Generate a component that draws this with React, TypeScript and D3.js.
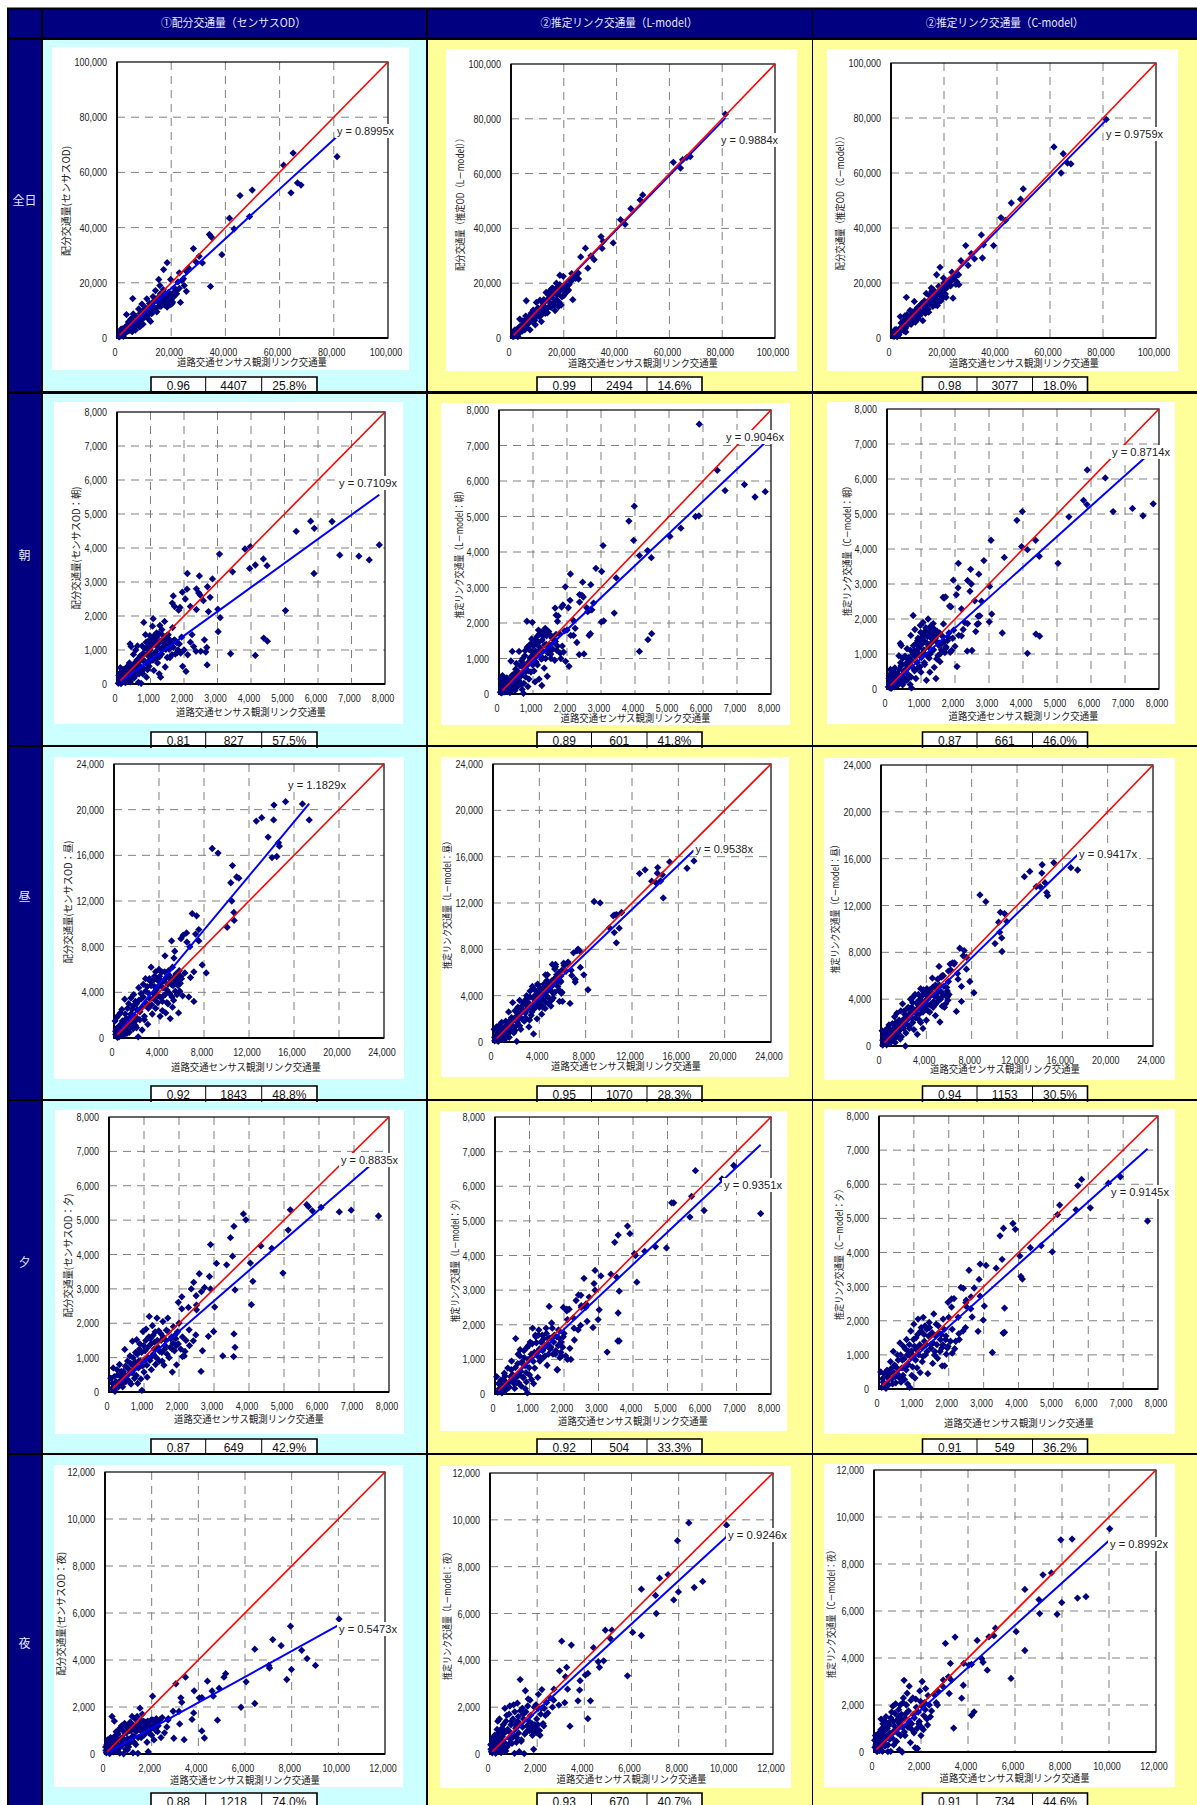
import React from "react";
import * as d3 from "d3";

// 列・行の見出し
const columnTitles = ["①配分交通量（センサスOD）", "②推定リンク交通量（L-model）", "②推定リンク交通量（C-model）"];
const columnTitleX = [233.5, 619, 1004.7];
const columnTitleLen = [145, 157, 158];
const rowTitles = ["全日", "朝", "昼", "夕", "夜"];
const rowTitleY = [200, 555, 896, 1262, 1643];

const yAxisTitles = [
  ["配分交通量(センサスOD)", "配分交通量（推定OD（L－model））", "配分交通量（推定OD（C－model））"],
  ["配分交通量(センサスOD：朝)", "推定リンク交通量（L－model：朝）", "推定リンク交通量（C－model：朝）"],
  ["配分交通量(センサスOD：昼)", "推定リンク交通量（L－model：昼）", "推定リンク交通量（C－model：昼）"],
  ["配分交通量(センサスOD：夕)", "推定リンク交通量（L－model：夕）", "推定リンク交通量（C－model：夕）"],
  ["配分交通量(センサスOD：夜)", "推定リンク交通量（L－model：夜）", "推定リンク交通量（C－model：夜）"],
];
const xAxisTitle = "道路交通センサス観測リンク交通量";

// 軸の目盛
const axisMax = [100000, 8000, 24000, 8000, 12000];
const axisStep = [20000, 1000, 4000, 1000, 2000];
const lineStart = [1000, 100, 300, 100, 100];

// 回帰式の傾き
const slopes = [
  [0.8995, 0.9884, 0.9759],
  [0.7109, 0.9046, 0.8714],
  [1.1829, 0.9538, 0.9417],
  [0.8835, 0.9351, 0.9145],
  [0.5473, 0.9246, 0.8992],
];

// 下の表 (相関係数, RMS, %RMS)
const statR = [
  ["0.96", "0.99", "0.98"],
  ["0.81", "0.89", "0.87"],
  ["0.92", "0.95", "0.94"],
  ["0.87", "0.92", "0.91"],
  ["0.88", "0.93", "0.91"],
];
const statRms = [
  ["4407", "2494", "3077"],
  ["827", "601", "661"],
  ["1843", "1070", "1153"],
  ["649", "504", "549"],
  ["1218", "670", "734"],
];
const statPct = [
  ["25.8%", "14.6%", "18.0%"],
  ["57.5%", "41.8%", "46.0%"],
  ["48.8%", "28.3%", "30.5%"],
  ["42.9%", "33.3%", "36.2%"],
  ["74.0%", "40.7%", "44.6%"],
];

// [観測値, センサスOD, L-model, C-model]
const allDayPoints = [
  [81200,65700,81700,79500],[65000,67000,65100,67000],[61500,62600,64100,69500],[64200,52600,62000,60000],[66600,56200,65900,63600],
  [67900,55400,66200,63300],[49900,53600,52200,54200],[45400,51600,47200,49100],[48900,44000,50400,50500],[41500,43400,43200,43800],
  [43200,39500,41500,42800],[34100,37500,37000,37500],[34900,36500,35300,33900],[28200,32400,32800,33600],[38700,30200,34700,33600],
  [30300,29600,30000,30700],[29100,27600,25500,26400],[31500,27200,28600,28800],[34500,18700,32700,29100],[18500,27300,22900,25700],
  [17200,24800,20000,23000],[26400,25400,29600,28100],[25500,24200,23700,23000],[23000,23600,23500,23900],[25600,16900,21500,19400],
  [23400,12900,14000,14500],[15400,21200,18000,17000],[19800,21200,22500,21800],[5800,14300,13600,14800],
  [1000,1500,2000,1800],[1200,800,800,600],[1500,3200,3000,3000],[1800,1000,1200,1200],[2000,3300,2000,3000],[2300,600,1000,500],
  [2600,2000,500,2100],[3000,3800,3200,1200],[3300,2500,6900,3200],[3500,8500,2800,7800],[3800,3500,4500,5500],[4200,5800,2500,4100],
  [4500,2800,6200,6000],[5000,3000,4400,2500],[5200,7000,3000,8000],[5600,2300,8000,2200],[6000,8700,3800,8500],[6400,4200,5200,4800],
  [6800,2900,7300,6500],[7200,6200,3000,10000],[7600,5500,9000,5000],[8000,10500,6000,9500],[8400,4000,10200,7000],[8800,6800,7400,13300],
  [9200,12300,4800,5800],[9600,5000,13000,10500],[10000,8000,8300,11000],[10500,11000,9000,7800],[11000,14200,13800,9000],[11500,7000,6000,12500],
  [12000,12500,10200,6300],[12400,6000,14000,13000],[12800,8800,9800,10500],[13300,15000,16600,16200],[13800,11000,9200,11800],[14200,17200,14200,9400],
  [14700,9500,17200,14000],[15200,13000,11200,18200],[15800,19000,18200,11500],[16200,11500,13000,17000],[16700,15000,10000,13000],[17100,17500,16000,14200],
  [17500,12000,18500,11800],[18000,14800,11500,18800],[18500,11200,19500,15500],[19000,16500,12000,17500],[19500,12000,17800,14500],[20000,14000,15500,20000],
  [20500,13000,18000,16000],[21000,16500,19200,18200],[21800,17000,17500,21000],[22500,20300,20500,19000],[24000,20800,22000,22000],[24800,19000,23000,20500],
  [24500,21500,21800,19500],
  [800,400,500,700],[1300,2300,1800,2200],[2100,1500,2600,1500],[2800,2800,1500,3000],[3100,1800,4000,2200],[3600,4500,3600,3200],[4000,2500,3000,2800],[4400,4200,5000,4400],
  [4800,4900,3500,6000],[5400,4800,6500,3500],[5900,4300,4800,7000],[6200,6000,7000,5200],[6600,5000,5500,5800],[7000,7800,6400,7400],[7400,4800,8200,6200],[7800,7000,7000,8300],
  [8200,6000,9300,7000],[8600,9000,8000,6000],[9000,8200,6500,9600],[9400,7000,10000,8000],[9800,10000,8800,9300],[10200,7500,11000,7000],[10700,9000,7800,10000],[11200,10500,10800,12000],
  [11700,8500,8500,9000],[12200,11000,12500,11500],[12600,9800,11500,13500],[13000,12800,9000,9000],[13500,10000,13800,13000],[14000,13500,11000,10500],[14400,10800,15500,15500],[15000,14500,12500,12500],
  [15500,11500,14800,13800],[16000,16000,16500,17500],[16500,13500,12000,15000],[16900,12800,17500,12000],[17300,14800,14000,15800],[17800,16000,16000,13000],[18300,13000,13000,16500],[18800,15500,17500,13500],
  [19300,14500,15000,18500],[19800,15800,19000,15800],[20300,12500,16000,18000],[20800,14800,18500,14800],[21300,18000,17000,20000],[22000,16000,19500,19500],[23000,18000,21000,21000],
];

const morningPoints = [
  [7830,4090,5700,5290],[7530,3650,5550,4950],[7220,3760,5900,5160],[6650,3790,5730,5070],[6420,4780,6300,6030],[5890,4580,7600,6260],
  [5880,3250,5020,5270],[5780,4790,5000,5390],[5350,4490,4670,4920],[5030,2160,4440,3590],[4480,3480,3840,3790],[4490,1260,1700,1510],
  [4370,3680,4040,4250],[4380,1350,1530,1570],[4130,3500,3900,3980],[4130,840,1200,1020],[3980,4040,5290,5070],[3960,3400,4330,4070],
  [3820,3970,4870,4820],[3450,3300,3270,3760],[3390,890,2280,1600],[3060,3820,4180,4250],[3010,2200,2030,1920],[3020,1540,3450,2930],
  [3080,1950,2060,2140],[2850,3090,3540,3670],[2700,2860,3080,3280],[2370,2800,2800,3100],[2100,3250,3380,3590],[2460,3180,3150,3420],
  [1950,2700,3020,3110],[2090,2790,2640,2890],[2440,2680,2780,2790],[2480,2620,2730,3000],[1680,2590,2220,2600],[2780,2550,2560,2510],
  [1650,2380,2420,2620],[2040,2500,2430,2690],[1720,2280,2050,2630],[2190,2280,2070,2290],[1880,2250,2510,2350],[1840,2170,2450,2370],
  [2580,2450,2430,2520],[2730,2130,2370,2090],[2370,2190,2590,1870],[2610,1300,2320,1640],[2680,1075,2370,2080],[2650,940,1650,1850],
  [2500,960,1130,1100],[2360,960,1110,1080],[2110,860,1650,1530],[2690,560,1700,1870],[2060,370,780,640],[2240,1450,1850,1700],[2190,1230,1650,1520],
  [2290,1100,1450,1900],[40,20,50,60],[60,250,420,300],[80,80,30,40],[100,480,520,560],[120,10,120,20],[130,300,180,520],[150,130,280,110],[170,60,60,60],[190,420,380,350],
  [210,210,90,130],[230,350,450,600],[250,40,200,250],[280,170,310,180],[300,510,180,90],[320,110,40,430],[350,280,930,950],[370,620,110,300],[390,1180,1200,1300],
  [400,60,340,750],[420,1100,550,1240],[450,240,280,180],[470,430,100,880],[490,870,700,520],[510,180,860,220],[530,620,420,940],[560,1000,240,700],[590,330,1200,1150],
  [610,1120,310,850],[640,50,500,330],[680,430,130,130],[700,760,1000,1530],[720,20,20,30],[750,1120,720,620],[770,300,1220,2100],[800,1810,650,1100],[820,680,2050,1700],
  [850,1450,210,300],[880,200,420,580],[900,880,1380,1380],[930,1260,960,1000],[960,520,1550,1230],[980,1420,2020,1820],[1000,720,1100,480],[1030,1150,650,1490],[1060,1700,340,1900],
  [1080,1920,1200,1120],[1100,400,1500,750],[1130,1280,820,1660],[1160,950,1800,250],[1180,1500,420,1300],[1210,620,1300,2000],[1240,1200,1750,880],[1260,300,240,480],[1280,1720,1020,1760],
  [1300,200,1620,1450],[1330,880,730,1100],[1360,1440,1850,1870],[1390,1120,1400,620],[1420,1840,500,1450],[1440,500,1150,300],[1470,1280,1700,1650],[1500,780,1250,950],[1530,1450,1000,1320],
  [1560,1020,1580,780],[1600,1200,1550,1120],[1640,860,950,1500],[1660,1660,1480,1860],[1700,1280,1230,1040],[1740,880,2200,1200],[1780,1220,1700,1380],[1820,1000,1000,1600],[1860,1180,1350,1050],
  [1900,910,1180,1100],[1930,1380,1780,1450],[1960,520,920,1680],[2000,1000,1800,1220],
  [70,150,200,180],[90,320,300,420],[110,60,380,240],[140,220,60,380],[160,400,150,70],[180,120,440,200],[200,280,260,500],[220,90,120,60],[240,190,350,310],[260,410,70,150],[290,90,240,420],[310,300,400,230],
  [340,190,300,140],[360,420,180,560],[380,130,520,260],[410,340,230,660],[440,180,430,400],[460,520,310,120],[500,300,580,330],[520,420,200,510],[550,250,640,720],[580,530,380,250],[600,710,520,600],[620,420,790,420],
  [650,640,270,900],[660,300,930,760],[690,820,600,1110],[710,510,860,340],[730,350,300,800],[760,700,1080,1000],[780,900,480,1240],[810,450,800,520],[830,1040,1320,920],[860,620,650,1300],[870,1230,900,1090],[890,1060,1250,760],
  [910,420,1020,1450],[940,820,620,1180],[950,1130,1420,1330],[970,650,1190,630],[990,1000,820,1620],[1010,1260,1350,900],[1020,840,1030,1280],[1050,1380,1500,1420],[1070,700,1210,1040],[1090,1150,900,1560],[1110,1420,1400,700],[1120,900,1620,1350],
  [1140,1250,1120,1750],[1170,750,1460,960],[1190,1380,1690,1500],[1220,1080,1250,1200],[1250,1480,980,1640],[1270,800,1520,1000],[1290,1260,1200,1800],[1310,1020,1750,1320],[1340,1600,1380,1560],[1370,1250,1000,1120],[1400,1040,1640,1700],[1430,1350,1250,1380],
  [1460,1020,1760,860],[1490,1430,1380,1550],[1520,1180,1120,1250],[1550,1320,1620,1600],[1580,780,1260,1020],[1620,1150,1450,1300],[1680,1080,1680,1350],[1720,1300,1350,1150],[1800,920,1150,1480],
];

const middayPoints = [
  [17350,19100,15630,15030],[16750,20500,15000,15230],[15250,20700,15550,15650],[14220,20400,15060,15480],[14190,19100,14570,14770],[13130,19300,14860,14910],
  [12650,19000,14540,14460],[13700,17600,13880,13610],[14620,17100,14430,13100],[14700,16800,12440,12840],[14050,15800,13760,13610],[14470,15900,13900,13950],
  [8730,16600,12130,12900],[9250,16200,12010,12330],[10530,15100,10980,11420],[10380,13600,10900,10570],[10900,14100,9830,11310],[11100,14000,11180,10630],
  [10470,12000,9450,9720],[10650,11000,8560,9230],[10680,10300,11000,8070],[10060,9700,9860,8750],[6950,10900,7700,8350],[7340,10700,8020,8150],[7540,9500,7800,7580],
  [7250,9100,7870,7700],[7540,8500,6440,6560],[6450,9200,6800,7000],[6150,9000,6600,6500],[5950,8700,6200,6400],[5120,8500,6700,6800],[6750,8000,6200,6200],[6480,8400,6900,7100],
  [7840,6400,5800,5510],[8200,5700,4510,4550],[7100,5800,5170,5090],[6800,5300,5750,5710],[6650,3600,3330,2950],[7100,3200,5400,3810],[5740,2200,3500,4300],[5200,2700,3800,2050],
  [4530,7200,5800,5800],[5400,7600,6700,6000],[5330,7000,6300,5900],[5860,5400,5200,4200],
  [100,1500,1100,1300],[150,300,100,80],[200,800,300,900],[250,1800,500,200],[300,50,1300,600],[350,400,150,1300],[400,2000,800,400],[450,100,50,1000],[500,1000,1400,100],[550,2200,400,1500],
  [600,500,1000,700],[700,2500,300,1800],[750,800,1700,400],[800,200,600,1400],[900,1500,1200,600],[950,3400,900,1000],[1000,2100,200,1900],[1100,700,1800,1200],[1200,2600,700,2500],[1250,1100,1500,300],
  [1300,3000,1000,2000],[1350,500,2600,800],[1400,1800,400,2800],[1500,3500,1900,1400],[1600,2500,1200,2200],[1700,800,3400,600],[1750,3800,2000,3000],[1800,1400,800,1500],[1900,3200,2700,3600],[2000,900,1400,2300],
  [2050,2500,50,3000],[2150,100,3000,0],[2200,4400,2000,1100],[2300,1600,3600,2600],[2400,3400,1100,3200],[2500,700,2800,1700],[2600,4700,3400,4000],[2700,1900,1800,2400],[2800,5200,2500,3700],[2900,3000,4000,1400],
  [3000,1200,3000,4400],[3100,3900,1300,2800],[3200,5000,3900,1000],[3300,6200,2300,3500],[3400,2100,4800,2200],[3500,3500,700,4900],[3600,5400,3200,3100],[3700,2600,4100,1500],[3800,4400,2000,4600],[3900,3100,4900,3400],
  [4000,6000,3000,2200],[4100,1900,4300,4000],[4200,5000,2400,4700],[4300,2400,3700,2900],[4400,3700,5000,3600],[4500,5800,2900,4400],[4600,2200,4000,3300],[4700,4200,5800,5000],[4800,3000,3300,2600],[4900,5500,4700,4200],
  [5000,1700,3100,5700],[5100,4700,5300,3900],[5200,6200,4200,4700],[5300,3300,6600,5900],[5400,4800,6500,3400],[5500,5600,5800,6000],[5600,3800,4800,3300],[5700,4600,6000,4300],[5800,5900,5300,5000],[5900,4800,4200,3900],
  [6000,5200,3500,4400],[6100,3700,6800,7000],[6300,5700,6100,7100],
  [150,600,400,500],[300,900,600,300],[450,500,250,700],[600,1200,800,1100],[750,1500,500,800],[850,650,1000,300],[1000,1200,1300,1100],[1100,1700,700,600],[1150,400,1100,1500],[1300,1600,1400,900],[1400,900,800,1700],
  [1500,2100,1500,1100],[1600,1200,2100,1300],[1700,2800,1300,1900],[1800,2000,1900,800],[1900,1100,1000,2000],[2000,3000,2200,1500],[2100,1700,1700,2700],[2200,3300,2500,1900],[2300,2300,1400,2200],[2400,3900,3000,3300],[2500,2700,2000,1500],
  [2600,3600,2700,2800],[2700,1600,3300,3300],[2800,4100,2100,2000],[2850,3000,3700,4200],[2950,4500,2800,3000],[3050,2600,3400,2400],[3150,5200,1900,3700],[3200,3400,4400,3200],[3300,4600,3000,4400],[3350,2900,2600,2700],[3450,5000,3800,4000],
  [3500,3900,4600,2000],[3600,4500,2900,3600],[3650,3300,3500,4300],[3700,5800,4400,2900],[3750,4200,3100,4800],[3850,5100,5000,3800],[3900,3700,3500,3100],[3950,4500,4100,4400],[4050,5400,3600,4900],[4100,3600,4600,3500],[4150,4800,3200,3000],
  [4250,5800,4500,4200],[4300,3200,3000,4800],[4350,4400,4200,3500],[4450,5000,4800,4600],[4550,3800,3400,5000],[4650,5300,5300,3800],[4700,3100,4400,4300],[4800,4700,3800,5200],[4850,5900,5000,3600],[4950,3900,4500,4500],[5050,5100,3600,4800],
  [5150,3600,4900,5200],[5250,4600,5400,4000],[5350,5300,4300,4600],[5450,4100,5600,4300],[5550,5000,5100,5100],[5700,5300,4500,3600],[5850,4100,5700,4700],[5950,5400,4300,5500],
];

const eveningPoints = [
  [7700,5120,5210,4920],[6920,5290,6600,6220],[6580,5240,6210,6030],[6060,5370,5300,5310],[5810,5270,6450,6140],[5700,5390,5710,5960],[5650,5450,5110,5250],[5180,5300,5520,5390],
  [5120,4710,5520,5110],[4970,3460,4220,4020],[4650,4180,4250,4200],[4340,4250,4120,4140],[4040,3750,4050,3900],[4110,3220,3230,3220],[4070,2540,4000,3300],[3910,5010,4630,4680],
  [3840,5180,4850,4850],[3570,4820,4590,4710],[3470,4490,4380,4490],[3530,3950,3370,3800],[3360,3700,3460,3540],[2900,4290,3570,3660],[3070,3740,3410,3620],[2580,3440,3340,3480],
  [2870,3360,3190,3210],[2420,3190,2860,2950],[2350,3000,2700,2980],[2730,3040,2800,2960],[2640,2920,2600,2700],[2900,3000,3000,2720],[2490,2800,2850,2530],[2500,2530,2550,2600],
  [2500,2390,2500,2420],[2080,2770,2450,2640],[1980,2610,2500,2540],[2080,2420,2400,2400],[2270,2460,2200,2100],[3020,2470,2430,2430],[2990,1760,2150,2020],[2840,1620,1920,1690],
  [3600,2970,2970,2370],[3570,1690,2340,1640],[3600,1300,1530,1660],[3560,1030,1530,1640],[3250,1050,1210,1070],[2670,1200,2100,2110],[2630,600,2500,2350],[2480,1660,1980,1800],
  [2290,1810,1900,1620],[2410,1490,1850,1700],[2300,1350,1560,1450],[2170,1180,1320,1180],[2100,1030,1000,1050],[1810,580,700,680],[1930,790,1100,1020],
  [50,400,500,500],[80,100,50,50],[120,700,150,200],[170,20,400,60],[200,300,30,20],[230,650,200,550],[270,150,600,120],[300,800,100,450],[330,450,320,800],[370,230,750,300],[410,600,200,1100],[450,1240,500,700],
  [480,300,950,180],[530,900,420,1000],[570,530,160,400],[600,1050,1600,1350],[630,230,320,200],[670,1480,1150,850],[700,750,550,1250],[730,400,1280,280],[760,1150,230,650],[790,1520,880,1450],[820,250,480,150],[850,900,1050,1100],
  [880,1400,150,50],[910,380,350,1700],[940,50,30,400],[970,1760,1400,1000],[1000,580,550,1900],[1030,1200,1020,320],[1060,1830,420,1500],[1090,430,1900,620],[1120,1000,300,2050],[1150,2200,750,1200],[1180,1550,1650,480],[1210,650,1200,1800],
  [1240,1930,480,800],[1270,1100,1850,2100],[1300,1450,950,1400],[1330,800,1500,1000],[1370,2150,1700,1750],[1400,1300,1050,450],[1440,900,1350,1950],[1480,1700,1900,1300],[1510,1150,830,1600],[1540,2050,1600,750],[1570,780,2530,2200],[1600,1350,1300,1100],
  [1640,1800,2050,1900],[1680,2150,1150,900],[1720,1000,1700,1650],[1760,1550,1250,1450],[1800,1250,700,1200],[1840,1900,1850,2050],[1880,1650,1050,680],[1920,1350,1500,1550],[1960,1750,1350,1200],[2000,2000,1750,2100],[2050,1250,1100,1400],[2100,1600,2150,1750],
  [2150,1050,2450,2650],[2200,1500,1000,1400],
  [100,250,300,300],[150,450,100,450],[190,120,260,140],[250,500,420,350],[290,300,520,280],[350,600,300,600],[390,150,180,150],[430,520,360,480],[470,750,700,360],[510,380,560,620],[550,680,300,850],[590,300,760,320],[620,830,480,1000],[660,560,880,620],
  [690,1000,320,400],[720,660,1100,880],[750,870,650,1180],[780,480,930,560],[810,1100,480,1000],[840,700,1250,720],[870,1250,820,1300],[900,900,620,950],[930,1150,1350,1120],[960,760,1000,650],[990,1350,760,1450],[1020,920,1500,1250],[1050,1500,1150,850],
  [1080,780,1450,1150],[1110,1300,940,1600],[1140,1600,1200,1000],[1170,920,1700,1300],[1200,1400,1480,1700],[1230,1050,1100,1220],[1260,1650,1700,950],[1290,1250,1300,1600],[1320,1750,1050,1850],[1350,1000,1500,1300],[1380,1500,1250,1100],[1420,1780,1600,1550],
  [1450,1180,1100,1800],[1490,1500,1750,1200],[1520,900,1450,1650],[1550,1600,1150,1350],[1590,1250,1620,1000],[1620,1500,1350,1550],[1660,1100,1900,1300],[1700,1750,1500,1850],[1750,1300,1150,1100],[1790,1600,1650,1600],[1830,1420,1400,1300],[1870,1200,1600,1750],
  [1910,1550,1200,1450],[1980,1400,1650,1250],
];

const nightPoints = [
  [10030,5740,9770,9500],[7950,5440,9110,9030],[7190,4870,7510,7540],[7550,4610,7660,7620],[8430,4410,9870,9060],[6420,4460,7040,6920],[8660,4060,7110,6550],[9020,3770,7370,6610],[7990,3600,6920,6360],[7790,3170,6580,5860],
  [7020,3770,6770,6480],[7050,3660,6000,5890],[6050,3070,5190,5120],[6420,2150,5060,4320],[5830,1990,3340,3130],[4890,2800,5290,4900],[5170,3420,5290,5270],[5100,3270,4930,4950],[4390,3100,4540,4750],[4590,2680,3940,3970],
  [4640,2460,3700,3820],[4820,1440,3980,3480],[3450,3270,4650,4890],[3040,2990,4820,4620],[3820,2690,3130,3770],[3800,1750,2730,2840],[3730,1470,2270,2290],[3250,2390,3700,3770],[3290,2200,2770,3060],[4040,2390,3370,3700],
  [4150,2400,3440,3730],[2040,2460,1950,1950],[4150,980,1510,1560],[4260,680,2270,1710],[3390,610,1190,1020],[2950,670,3550,3060],[3200,1280,3300,2490],[3170,1810,2190,3200],[2920,1820,2090,2800],[2710,1500,2770,2600],[1280,1200,3180,3050],
  [30,300,400,500],[60,50,100,700],[100,600,50,100],[130,120,700,20],[170,350,250,350],[200,20,800,800],[240,700,30,60],[280,200,500,200],[300,1600,1050,1400],[330,450,1400,950],[360,90,150,30],[400,1400,1500,550],[430,300,620,1100],[470,800,60,250],[510,150,1100,1500],
  [550,600,300,700],[590,1000,880,20],[630,40,1950,1250],[670,400,130,550],[710,1200,1650,30],[750,700,1050,1700],[800,10,420,1950],[840,1300,2050,300],[880,450,900,1100],[920,900,1400,2050],[960,180,700,450],[1000,1150,2100,1000],[1040,600,30,1500],[1080,1350,1250,100],[1120,1000,500,2000],
  [1160,1600,2170,1350],[1200,50,1600,0],[1240,750,100,2100],[1320,400,540,700],[1370,1100,1950,1650],[1410,30,1700,2500],[1450,1250,20,1050],[1500,1950,2700,2800],[1550,700,950,400],[1600,1700,2050,1200],[1650,1400,1400,2300],[1700,900,2300,820],[1750,1250,1100,180],[1800,500,800,1900],[1850,100,200,150],
  [1900,1350,1250,1200],[1950,1050,2100,2600],[2000,800,900,700],[2050,1450,2550,3000],[2100,600,1000,950],[2150,1150,1700,2100],[2200,1500,2750,2700],[2250,950,1300,1400],[2300,1350,1950,2400],[2400,700,2200,1500],[2450,1550,1750,1750],[2550,900,2400,2450],[2650,1150,2000,2100],[2700,1450,2300,2000],
  [40,150,200,200],[80,400,450,300],[110,250,600,550],[140,500,300,650],[180,100,550,120],[210,450,120,450],[250,250,650,600],[290,550,350,950],[320,150,850,320],[350,650,200,750],[380,350,700,1200],[410,750,450,380],[440,500,1000,900],[480,950,200,1300],[520,400,750,600],
  [560,850,1250,1000],[600,250,500,300],[640,1100,950,1150],[680,650,1400,800],[720,350,300,1450],[770,1000,1000,600],[810,550,1700,1300],[850,900,650,900],[890,200,1250,1650],[930,1150,450,450],[970,650,1500,1350],[1010,300,800,800],[1050,1000,1800,1800],[1090,500,1100,1200],
  [1130,1300,700,700],[1170,750,1400,1600],[1210,1100,900,1050],[1250,500,1300,2300],[1290,1500,1850,850],[1330,950,600,1450],[1380,1600,1150,2000],[1420,700,1500,1100],[1470,1250,850,1750],[1520,1000,1800,1300],[1570,1400,1200,2200],[1620,1100,2350,950],[1670,800,1000,1600],
  [1720,1350,1650,1450],[1780,1100,1300,2250],[1830,1400,950,1000],[1880,900,2000,1700],[1930,1200,1100,1300],[1980,1450,1500,2150],[2030,1150,1250,1050],[2120,1350,800,1550],[2180,1000,1950,1800],[2280,1200,1200,1150],[2350,1450,1650,2000],
];

const rowPoints = [allDayPoints, morningPoints, middayPoints, eveningPoints, nightPoints];

// レイアウト: plot [左,上,右,下], white [左,上,右,下], yTitle [x,中心y,長さ], xTitle [中心x,y], eq [左,右,y]
const layout = [
  [
    { white: [52, 47, 409, 370], plot: [117, 62, 388, 338], yTitle: [66, 201, 110], xTitle: [252, 362], eq: [337, 394, 131] },
    { white: [446, 49, 797, 371], plot: [511, 64, 775, 338], yTitle: [460, 202.5, 137], xTitle: [643, 363], eq: [721, 778, 140] },
    { white: [827, 49, 1178, 371], plot: [891, 63, 1156, 338], yTitle: [840, 201, 139], xTitle: [1024, 363], eq: [1106, 1163, 134] },
  ],
  [
    { white: [54, 402, 403, 724], plot: [117, 412, 385, 684], yTitle: [76, 548, 123], xTitle: [251, 712], eq: [339, 397, 483] },
    { white: [441, 403, 790, 725], plot: [499, 410, 771, 694], yTitle: [459, 552.5, 132], xTitle: [635.5, 718], eq: [726, 784, 437] },
    { white: [827, 402, 1175, 724], plot: [887, 409, 1159, 689], yTitle: [847, 549, 134], xTitle: [1023.5, 716], eq: [1112, 1170, 452] },
  ],
  [
    { white: [54, 757, 404, 1079], plot: [114, 764, 384, 1038], yTitle: [68, 902, 123], xTitle: [246, 1067], eq: [288, 346, 785] },
    { white: [441, 757, 789, 1077], plot: [493, 764, 771, 1042], yTitle: [447, 903, 132], xTitle: [626, 1066], eq: [695.5, 753, 849] },
    { white: [824, 758, 1175, 1080], plot: [881, 765, 1153, 1046], yTitle: [835, 907, 133], xTitle: [1005, 1069], eq: [1079, 1137, 854] },
  ],
  [
    { white: [55, 1110, 404, 1434], plot: [109, 1117, 389, 1392], yTitle: [68, 1255.5, 124], xTitle: [249, 1419], eq: [341, 398, 1160] },
    { white: [440, 1111, 787, 1431], plot: [495, 1117, 771, 1394], yTitle: [455, 1258.7, 127], xTitle: [633, 1420.7], eq: [724, 782, 1185] },
    { white: [824, 1109, 1175, 1434], plot: [879, 1116, 1158, 1389], yTitle: [839, 1252.5, 135], xTitle: [1019, 1423], eq: [1111, 1169, 1192] },
  ],
  [
    { white: [54, 1465, 403, 1787], plot: [105, 1472, 385, 1754], yTitle: [61, 1613.7, 124], xTitle: [245, 1780], eq: [339, 397, 1629] },
    { white: [440, 1466, 791, 1788], plot: [490, 1473, 773, 1754], yTitle: [447, 1614, 132], xTitle: [631.5, 1779], eq: [728, 787, 1535] },
    { white: [824, 1464, 1175, 1787], plot: [874, 1470, 1156, 1752], yTitle: [831, 1612, 132], xTitle: [1014.6, 1778], eq: [1110, 1168, 1544] },
  ],
];

const statX = [
  [151, 205.7, 261.7, 317],
  [537, 591.5, 647, 702],
  [922.5, 977, 1032.5, 1087.5],
];
const statTop = [377, 732, 1086, 1439, 1793];
const rowTop = [39, 393, 746.5, 1100.5, 1454.5];
const columnEdges = [43, 427.5, 813, 1197];

const NAVY = "#000080";
const LATIN = "'Liberation Sans', Arial, sans-serif";
const CJK = "'Noto Sans CJK JP', sans-serif";
const INK = "#222";

const diamond = d3.symbol(d3.symbolDiamond2, 34)();
const fmt = d3.format(",");

function Panel({ r, c }: { r: number; c: number }) {
  const box = layout[r][c];
  const [px0, py0, px1, py1] = box.plot;
  const max = axisMax[r];
  const x = d3.scaleLinear().domain([0, max]).range([px0, px1]);
  const y = d3.scaleLinear().domain([0, max]).range([py1, py0]);
  const ticks = d3.range(0, max + 1, axisStep[r]);
  const points = rowPoints[r];
  const xMax = d3.max(points, (d) => d[0]) as number;
  const line = d3
    .line<number[]>()
    .x((d) => x(d[0]))
    .y((d) => y(d[1]));
  const slope = slopes[r][c];
  const [eq0, eq1, eqY] = box.eq;
  return (
    <g>
      <rect x={box.white[0]} y={box.white[1]} width={box.white[2] - box.white[0]} height={box.white[3] - box.white[1]} fill="#fff" />
      {ticks.slice(1, -1).map((t) => (
        <g key={t} stroke="#808080" strokeWidth={1} strokeDasharray="8 6">
          <line x1={x(t)} x2={x(t)} y1={py0} y2={py1} />
          <line x1={px0} x2={px1} y1={y(t)} y2={y(t)} />
        </g>
      ))}
      <rect x={px0} y={py0} width={px1 - px0} height={py1 - py0} fill="none" stroke="#000" strokeWidth={1.2} />
      <path d={`M${px0},${py0}V${py1}H${px1}`} fill="none" stroke="#000" strokeWidth={1.8} />
      {ticks.map((t) => (
        <g key={t} fontFamily={LATIN} fontSize={11} fill={INK}>
          <text transform={`translate(${px0 - 10},${y(t) + 4}) scale(0.82,1)`} textAnchor="end">
            {fmt(t)}
          </text>
          <text transform={`translate(${x(t) - 2},${py1 + 17.5}) scale(0.82,1)`} textAnchor="middle">
            {fmt(t)}
          </text>
        </g>
      ))}
      {points.map((d, i) => (
        <path key={i} d={diamond as string} transform={`translate(${x(d[0])},${y(d[c + 1])})`} fill={NAVY} />
      ))}
      <path d={line([[lineStart[r], lineStart[r] * slope], [xMax, xMax * slope]]) as string} fill="none" stroke="#0000ff" strokeWidth={2} />
      <path d={line([[lineStart[r], lineStart[r]], [max, max]]) as string} fill="none" stroke="#ff0000" strokeWidth={1.6} />
      <rect x={eq0 - 2} y={eqY - 7} width={eq1 - eq0 + 4} height={14} fill="#fff" />
      <text x={eq0} y={eqY + 4} fontFamily={LATIN} fontSize={11} fill={INK} textLength={eq1 - eq0} lengthAdjust="spacingAndGlyphs">
        {`y = ${slope.toFixed(4)}x`}
      </text>
      <text x={box.xTitle[0]} y={box.xTitle[1] + 4} textAnchor="middle" fontFamily={CJK} fontSize={10} fill={INK} textLength={150} lengthAdjust="spacingAndGlyphs">
        {xAxisTitle}
      </text>
      <text
        transform={`translate(${box.yTitle[0] + 4},${box.yTitle[1]}) rotate(-90)`}
        textAnchor="middle"
        fontFamily={CJK}
        fontSize={10}
        fill={INK}
        textLength={box.yTitle[2]}
        lengthAdjust="spacingAndGlyphs"
      >
        {yAxisTitles[r][c]}
      </text>
    </g>
  );
}

function StatBox({ r, c }: { r: number; c: number }) {
  const xs = statX[c];
  const top = statTop[r];
  const bottom = top + 16;
  const values = [statR[r][c], statRms[r][c], statPct[r][c]];
  return (
    <g>
      <rect x={xs[0]} y={top} width={xs[3] - xs[0]} height={bottom - top} fill="#fff" />
      <path d={`M${xs[0]},${bottom}V${top}H${xs[3]}V${bottom}`} fill="none" stroke="#000" strokeWidth={1.6} />
      <line x1={xs[1]} x2={xs[1]} y1={top} y2={bottom} stroke="#000" strokeWidth={1} />
      <line x1={xs[2]} x2={xs[2]} y1={top} y2={bottom} stroke="#000" strokeWidth={1} />
      {values.map((v, i) => (
        <text key={i} x={(xs[i] + xs[i + 1]) / 2} y={top + 13} textAnchor="middle" fontFamily={LATIN} fontSize={12} fill="#111">
          {v}
        </text>
      ))}
    </g>
  );
}

export default function App() {
  const rows = d3.range(5);
  const cols = d3.range(3);
  return (
    <svg width={1197} height={1805} style={{ position: "absolute", left: 0, top: 0, display: "block", background: "#fff" }}>
      {/* 見出しと左列 */}
      <rect x={8} y={9} width={1189} height={30} fill={NAVY} />
      <rect x={8} y={39} width={34} height={1766} fill={NAVY} />
      {cols.map((c) => (
        <rect key={c} x={columnEdges[c]} y={39} width={columnEdges[c + 1] - columnEdges[c]} height={1766} fill={c === 0 ? "#CCFFFF" : "#FFFF99"} />
      ))}
      {cols.map((c) => (
        <text key={c} x={columnTitleX[c]} y={27} textAnchor="middle" fontFamily={CJK} fontSize={11.5} fill="#e6e6ff" textLength={columnTitleLen[c]} lengthAdjust="spacingAndGlyphs">
          {columnTitles[c]}
        </text>
      ))}
      {rows.map((r) => (
        <text key={r} x={24.5} y={rowTitleY[r] + 4.5} textAnchor="middle" fontFamily={CJK} fontSize={12} fill="#e6e6ff">
          {rowTitles[r]}
        </text>
      ))}
      {rows.map((r) => cols.map((c) => <Panel key={`${r}-${c}`} r={r} c={c} />))}
      {rows.map((r) => cols.map((c) => <StatBox key={`${r}-${c}`} r={r} c={c} />))}
      {/* 罫線 */}
      <g stroke="#000">
        <line x1={8} x2={8} y1={8} y2={1805} strokeWidth={2} />
        <line x1={7} x2={1197} y1={8.5} y2={8.5} strokeWidth={2} />
        <line x1={42} x2={42} y1={8} y2={1805} strokeWidth={2} />
        <line x1={427} x2={427} y1={8} y2={1805} strokeWidth={2} />
        <line x1={812.5} x2={812.5} y1={8} y2={1805} strokeWidth={1} />
        {rowTop.map((v, i) => (
          <line key={i} x1={8} x2={1197} y1={v - 0.5} y2={v - 0.5} strokeWidth={i < 2 ? 3 : 2} />
        ))}
      </g>
    </svg>
  );
}
